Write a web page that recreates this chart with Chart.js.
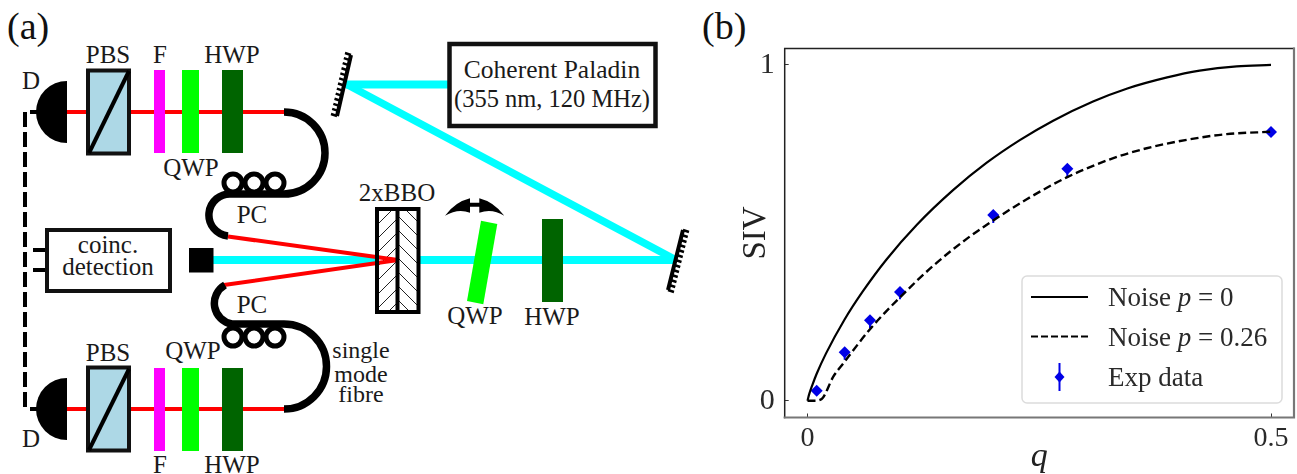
<!DOCTYPE html>
<html>
<head>
<meta charset="utf-8">
<title>Setup and SIV</title>
<script src="https://cdn.jsdelivr.net/npm/chart.js@4/dist/chart.umd.min.js"></script>
<style>
  html, body { margin: 0; background: #fff; }
  #page { position: relative; width: 1297px; height: 474px; overflow: hidden; }
  #setup { position: absolute; left: 0; top: 0; }
  #setup text { font-family: "Liberation Serif", serif; font-size: 25px; fill: #1a1a1a; text-anchor: middle; }
  #setup text.panel { font-size: 38px; fill: #111; text-anchor: start; }
  #sivChart { position: absolute; left: 700px; top: 0; }
</style>
</head>
<body>
<div id="page">
<svg id="setup" width="1297" height="474" viewBox="0 0 1297 474">
  <defs>
    <pattern id="hatchL" width="14" height="14" patternUnits="userSpaceOnUse">
      <path d="M-2,16 L16,-2 M-2,2 L2,-2 M12,16 L16,12" stroke="#222" stroke-width="1"/>
    </pattern>
    <pattern id="hatchR" width="14" height="14" patternUnits="userSpaceOnUse">
      <path d="M-2,-2 L16,16 M12,-2 L16,2 M-2,12 L2,16" stroke="#222" stroke-width="1"/>
    </pattern>
  </defs>

  <text class="panel" x="7" y="39">(a)</text>
  <text class="panel" x="702" y="39">(b)</text>

  <!-- pump beam -->
  <g fill="none" stroke="#00ffff" stroke-width="8">
    <path d="M449,84.5 L346,84.5"/>
    <path d="M346,84 L676,260" stroke-width="7.5"/>
    <path d="M676,260 L213,260"/>
  </g>
  <rect x="189" y="248" width="24.5" height="24.5" fill="#000"/>

  <!-- laser -->
  <rect x="449.5" y="44" width="206" height="82" fill="#fff" stroke="#111" stroke-width="4.5"/>
  <text x="552" y="77.5" style="font-size:25.5px">Coherent Paladin</text>
  <text x="552" y="107" style="font-size:24.5px">(355 nm, 120 MHz)</text>

  <!-- crystals -->
  <rect x="377" y="209" width="20.5" height="103" fill="#fff"/>
  <rect x="397.5" y="209" width="21" height="103" fill="#fff"/>
  <rect x="377" y="209" width="20.5" height="103" fill="url(#hatchL)"/>
  <rect x="397.5" y="209" width="21" height="103" fill="url(#hatchR)"/>
  <path d="M228,236.5 L398,260 L224,285" fill="none" stroke="#ff0000" stroke-width="4"/>
  <rect x="377" y="209" width="41.5" height="103" fill="none" stroke="#000" stroke-width="4"/>
  <path d="M397.5,207 L397.5,314" stroke="#000" stroke-width="4"/>
  <text x="397" y="201">2xBBO</text>

  <!-- pump waveplates -->
  <polygon points="481,220.7 497.3,224 483.3,304.3 467,301" fill="#00ff00"/>
  <rect x="542" y="219" width="21" height="83" fill="#006400"/>
  <text x="475" y="324">QWP</text>
  <text x="552" y="325">HWP</text>
  <path d="M445,215.7 Q455,202 470,198.3 L470,202.7 L479.3,202.7 L479.3,198.3 Q494,202 504.3,215.7 Q492,208 479.3,212.7 L479.3,206.7 L470,206.7 L470,212.7 Q458,208 445,215.7 Z" fill="#000"/>

  <!-- mirrors are added by the script below -->
  <g id="mirrors" stroke="#000" fill="none"></g>

  <!-- top arm -->
  <path d="M67,112 L284,112" stroke="#ff0000" stroke-width="4"/>
  <path d="M67,81 A31,31 0 0 0 67,143 Z" fill="#000"/>
  <path d="M30,112 L37,112" stroke="#000" stroke-width="4"/>
  <rect x="88" y="70.5" width="41" height="83" fill="#add8e6" stroke="#111" stroke-width="4"/>
  <path d="M89,153 L129,71" stroke="#000" stroke-width="4"/>
  <rect x="154" y="70" width="11" height="83" fill="#ff00ff"/>
  <rect x="182" y="70" width="17" height="83" fill="#00ff00"/>
  <rect x="222" y="70" width="21" height="83" fill="#006400"/>
  <text x="31" y="89">D</text>
  <text x="108" y="63">PBS</text>
  <text x="160" y="63">F</text>
  <text x="232" y="63">HWP</text>
  <text x="191" y="176">QWP</text>
  <text x="252" y="223">PC</text>

  <!-- top fibre -->
  <g fill="none" stroke="#000">
    <path d="M284,112 A41,41 0 0 1 284,194 L232,194 A21,21 0 0 0 228,236" stroke-width="7.5"/>
    <circle cx="233" cy="183" r="9" stroke-width="5"/>
    <circle cx="254" cy="183" r="9" stroke-width="5"/>
    <circle cx="275" cy="183" r="9" stroke-width="5"/>
  </g>

  <!-- bottom arm -->
  <path d="M67,409 L284,409" stroke="#ff0000" stroke-width="4"/>
  <path d="M67,378 A31,31 0 0 0 67,440 Z" fill="#000"/>
  <path d="M30,409 L37,409" stroke="#000" stroke-width="4"/>
  <rect x="88" y="367.5" width="41" height="83" fill="#add8e6" stroke="#111" stroke-width="4"/>
  <path d="M89,450 L129,369" stroke="#000" stroke-width="4"/>
  <rect x="154" y="368" width="11" height="83" fill="#ff00ff"/>
  <rect x="182" y="368" width="17" height="83" fill="#00ff00"/>
  <rect x="222" y="368" width="21" height="83" fill="#006400"/>
  <text x="31" y="447">D</text>
  <text x="108" y="361">PBS</text>
  <text x="193" y="359">QWP</text>
  <text x="252" y="313">PC</text>
  <text x="160" y="473">F</text>
  <text x="232" y="473">HWP</text>
  <text x="361" y="358" style="font-size:24px">single</text>
  <text x="361" y="382" style="font-size:24px">mode</text>
  <text x="361" y="402" style="font-size:24px">fibre</text>

  <!-- bottom fibre -->
  <g fill="none" stroke="#000">
    <path d="M225,285 A21,21 0 0 0 232,324 L284,324 A42.5,42.5 0 0 1 284,409" stroke-width="7.5"/>
    <circle cx="233" cy="337" r="9" stroke-width="5"/>
    <circle cx="254" cy="337" r="9" stroke-width="5"/>
    <circle cx="275" cy="337" r="9" stroke-width="5"/>
  </g>

  <!-- coincidence box -->
  <path d="M25,112 L25,409" stroke="#000" stroke-width="4" stroke-dasharray="15 5" fill="none"/>
  <path d="M33,250 L47,250 M33,270 L47,270" stroke="#000" stroke-width="4"/>
  <rect x="47" y="230" width="123" height="61" fill="#fff" stroke="#111" stroke-width="4"/>
  <text x="108" y="253">coinc.</text>
  <text x="108" y="275">detection</text>
</svg>
<canvas id="sivChart" width="597" height="474"></canvas>
</div>

<script>
// values
const qSolid = [0, 0.002, 0.005, 0.01, 0.02, 0.04, 0.06, 0.085, 0.118, 0.157, 0.193, 0.229, 0.265, 0.308, 0.345, 0.388, 0.423, 0.463, 0.5];
const sivSolid = [0, 0.021, 0.045, 0.081, 0.141, 0.242, 0.327, 0.42, 0.524, 0.627, 0.708, 0.776, 0.834, 0.891, 0.93, 0.963, 0.983, 0.996, 1];

const qDashed = [0, 0.008, 0.0153, 0.0278, 0.0386, 0.0674, 0.0998, 0.1357, 0.1717, 0.2004, 0.2365, 0.2796, 0.3263, 0.3659, 0.409, 0.4522, 0.5];
const sivDashed = [0, 0, 0.005, 0.0715, 0.111, 0.213, 0.308, 0.402, 0.482, 0.537, 0.6, 0.665, 0.719, 0.752, 0.777, 0.794, 0.801];

const qExp = [0.0099, 0.0401, 0.0674, 0.0998, 0.2004, 0.2803, 0.5];
const sivExp = [0.03, 0.144, 0.24, 0.324, 0.553, 0.691, 0.8];
const errLow = [0.005, 0.022, 0.024, 0.022, 0.024, 0.028, 0.004];
const errHigh = [0.005, 0.008, 0.01, 0.01, 0.012, 0.012, 0.004];

const xTickValues = [0, 0.5];
const yTickValues = [0, 1];

const legendRows = [
    [['Noise ', ''], ['p', 'italic '], [' = 0', '']],
    [['Noise ', ''], ['p', 'italic '], [' = 0.26', '']],
    [['Exp data', '']]
];

const serif = '"Liberation Serif", serif';
const blue = '#0000e6';

function xy(xs, ys) {
    return xs.map((x, i) => ({ x: x, y: ys[i] }));
}

// mirrors: a bar with short hatch strokes on its back side
function addMirror(x1, y1, x2, y2, hx, hy) {
    const g = document.getElementById('mirrors');
    const n = 12;
    let hatch = '';
    for (let i = 0; i <= n; i++) {
        const px = x1 + (x2 - x1) * i / n, py = y1 + (y2 - y1) * i / n;
        hatch += ' M' + px + ',' + py + ' l' + hx + ',' + hy;
    }
    const bar = document.createElementNS('http://www.w3.org/2000/svg', 'path');
    bar.setAttribute('d', 'M' + x1 + ',' + y1 + ' L' + x2 + ',' + y2);
    bar.setAttribute('stroke-width', '4');
    g.appendChild(bar);
    const ticks = document.createElementNS('http://www.w3.org/2000/svg', 'path');
    ticks.setAttribute('d', hatch);
    ticks.setAttribute('stroke-width', '2.4');
    g.appendChild(ticks);
}
addMirror(351, 55, 337, 116, -6, -2);
addMirror(668, 290, 683, 230, 6, 2);

// spines, matplotlib style: all four sides
const framePlugin = {
    id: 'frame',
    afterDraw(chart) {
        const { ctx, chartArea: a } = chart;
        ctx.save();
        ctx.lineCap = 'square';
        ctx.strokeStyle = '#222'; ctx.lineWidth = 1.5;
        ctx.beginPath();
        ctx.moveTo(a.left, a.bottom); ctx.lineTo(a.left, a.top); ctx.lineTo(a.right, a.top);
        ctx.stroke();
        ctx.strokeStyle = '#777'; ctx.lineWidth = 2.2;
        ctx.beginPath();
        ctx.moveTo(a.left, a.bottom); ctx.lineTo(a.right, a.bottom); ctx.lineTo(a.right, a.top);
        ctx.stroke();
        ctx.restore();
    }
};

// legend sits inside the axes and needs a mixed italic label
const legendPlugin = {
    id: 'insideLegend',
    afterDatasetsDraw(chart) {
        const ctx = chart.ctx;
        const box = { x: 322, y: 276, w: 260, h: 127 };
        const handleX = [331, 388];
        const rowY = [297, 336.5, 377];
        const baseY = [306, 346, 386];
        ctx.save();
        ctx.beginPath();
        ctx.roundRect(box.x, box.y, box.w, box.h, 5);
        ctx.fillStyle = 'rgba(255,255,255,0.85)';
        ctx.fill();
        ctx.strokeStyle = '#dcdcdc';
        ctx.lineWidth = 1.5;
        ctx.stroke();

        ctx.strokeStyle = '#000';
        ctx.lineWidth = 2;
        ctx.beginPath(); ctx.moveTo(handleX[0], rowY[0]); ctx.lineTo(handleX[1], rowY[0]); ctx.stroke();
        ctx.setLineDash([7, 3]);
        ctx.beginPath(); ctx.moveTo(handleX[0], rowY[1]); ctx.lineTo(handleX[1], rowY[1]); ctx.stroke();
        ctx.setLineDash([]);

        const mx = (handleX[0] + handleX[1]) / 2;
        ctx.strokeStyle = blue;
        ctx.beginPath(); ctx.moveTo(mx, rowY[2] - 14); ctx.lineTo(mx, rowY[2] + 14); ctx.stroke();
        ctx.fillStyle = blue;
        ctx.beginPath();
        ctx.moveTo(mx, rowY[2] - 5.5); ctx.lineTo(mx + 5, rowY[2]); ctx.lineTo(mx, rowY[2] + 5.5); ctx.lineTo(mx - 5, rowY[2]);
        ctx.closePath(); ctx.fill();

        ctx.fillStyle = '#2a2a2a';
        ctx.textAlign = 'left';
        ctx.textBaseline = 'alphabetic';
        legendRows.forEach((runs, r) => {
            let x = 408;
            runs.forEach(run => {
                ctx.font = run[1] + '27px ' + serif;
                ctx.fillText(run[0], x, baseY[r]);
                x += ctx.measureText(run[0]).width;
            });
        });
        ctx.restore();
    }
};

// error bars as one broken line through the library's scales
const errorBarPoints = qExp.flatMap((q, i) => [
    { x: q, y: sivExp[i] - errLow[i] },
    { x: q, y: sivExp[i] + errHigh[i] },
    { x: q, y: null }
]);

new Chart(document.getElementById('sivChart'), {
    type: 'scatter',
    data: {
        datasets: [
            {
                label: 'Noise p = 0',
                data: xy(qSolid, sivSolid),
                showLine: true, borderColor: '#000', borderWidth: 2.2,
                pointRadius: 0, cubicInterpolationMode: 'monotone'
            },
            {
                label: 'Noise p = 0.26',
                data: xy(qDashed, sivDashed),
                showLine: true, borderColor: '#000', borderWidth: 2.4, borderDash: [8, 4],
                pointRadius: 0, cubicInterpolationMode: 'monotone'
            },
            {
                label: 'Exp data error',
                data: errorBarPoints,
                showLine: true, spanGaps: false, borderColor: blue, borderWidth: 2,
                pointRadius: 0
            },
            {
                label: 'Exp data',
                data: xy(qExp, sivExp),
                showLine: false, pointStyle: 'rectRot', pointRadius: 6,
                pointBackgroundColor: blue, pointBorderWidth: 0
            }
        ]
    },
    options: {
        responsive: false,
        animation: false,
        layout: { autoPadding: false, padding: { top: 48.5, right: 3, left: 0, bottom: 0 } },
        plugins: { legend: { display: false }, tooltip: { enabled: false } },
        scales: {
            x: {
                type: 'linear', min: -0.0246, max: 0.5248,
                afterFit(scale) { scale.height = 56.5; scale.paddingRight = 0; scale.paddingLeft = 0; },
                afterBuildTicks(axis) { axis.ticks = xTickValues.map(v => ({ value: v })); },
                border: { display: false },
                grid: { drawOnChartArea: false, drawTicks: true, tickLength: -4, tickColor: '#333', tickWidth: 1 },
                ticks: { padding: 8, maxRotation: 0, color: '#2a2a2a', font: { family: serif, size: 28 }, callback: v => String(v) },
                title: { display: true, text: 'q', color: '#222', font: { family: serif, size: 34, style: 'italic' }, padding: { top: 0, bottom: -3 } }
            },
            y: {
                type: 'linear', min: -0.05, max: 1.049,
                afterFit(scale) { scale.width = 84.7; scale.paddingTop = 0; scale.paddingBottom = 0; },
                afterBuildTicks(axis) { axis.ticks = yTickValues.map(v => ({ value: v })); },
                border: { display: false },
                grid: { drawOnChartArea: false, drawTicks: true, tickLength: -4, tickColor: '#333', tickWidth: 1 },
                ticks: { padding: 14, color: '#2a2a2a', font: { family: serif, size: 30 }, callback: v => String(v) },
                title: { display: true, text: 'SIV', color: '#222', font: { family: serif, size: 33 }, padding: { top: 37, bottom: 0 } }
            }
        }
    },
    plugins: [legendPlugin, framePlugin]
});
</script>
</body>
</html>
